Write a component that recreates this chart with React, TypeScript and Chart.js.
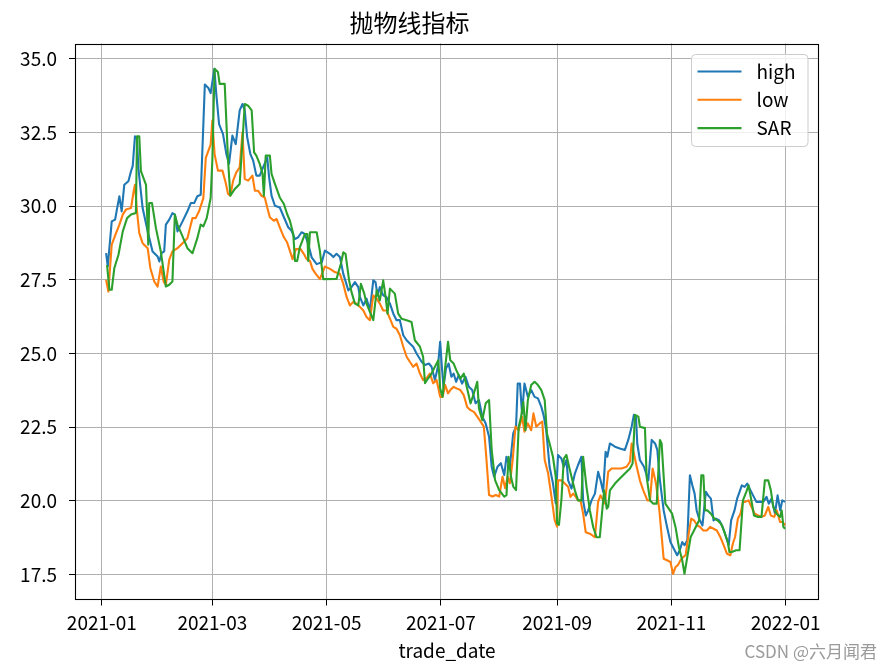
import React, { useEffect, useRef } from 'react';
import { Chart, registerables } from 'chart.js';

Chart.register(...registerables);

const TITLE = '抛物线指标';
const X_TITLE = 'trade_date';
const WATERMARK = 'CSDN @六月闻君';

// x values: days since 2021-01-01
const xTickDays = [0, 59, 120, 181, 243, 304, 365];
const xTickLabels = ['2021-01', '2021-03', '2021-05', '2021-07', '2021-09', '2021-11', '2022-01'];
const yTicks = [17.5, 20, 22.5, 25, 27.5, 30, 32.5, 35];

const seriesNames = ['high', 'low', 'SAR'];
const seriesColors = ['#1f77b4', '#ff7f0e', '#2ca02c'];

const highDays = [2.3, 3.2, 5.3, 7.1, 8.2, 9.4, 10.6, 12.0, 14.2, 15.6, 16.5, 17.7, 18.8, 19.5, 21.8, 24.5, 27.1, 29.8, 30.7, 31.9, 33.3, 34.2, 36.0, 37.7, 39.0, 40.4, 43.1, 45.7, 47.5, 49.3, 51.0, 52.8, 55.0, 56.9, 58.1, 60.1, 61.1, 62.6, 64.7, 66.5, 67.9, 69.7, 71.5, 73.6, 75.1, 76.3, 77.6, 79.3, 80.8, 82.5, 84.3, 86.1, 88.3, 89.3, 90.6, 92.4, 95.0, 97.2, 99.5, 101.3, 103.1, 104.8, 106.6, 108.4, 110.2, 112.0, 114.7, 117.4, 119.1, 121.8, 123.6, 125.3, 127.1, 128.9, 131.6, 133.3, 135.1, 136.9, 137.8, 139.6, 141.3, 143.1, 144.9, 146.1, 147.2, 148.4, 150.2, 152.0, 153.8, 155.6, 157.3, 159.1, 160.9, 162.7, 164.4, 166.2, 168.0, 170.7, 172.5, 174.6, 176.0, 177.8, 179.4, 180.6, 181.5, 182.4, 183.7, 185.1, 186.6, 187.8, 189.1, 190.5, 192.3, 194.1, 195.9, 197.7, 199.5, 201.3, 203.1, 204.9, 206.7, 208.1, 209.4, 211.2, 213.0, 214.8, 216.0, 217.8, 219.6, 221.1, 222.0, 223.2, 224.3, 225.6, 227.4, 229.2, 231.0, 232.8, 234.6, 235.8, 237.2, 239.0, 240.8, 242.3, 243.5, 245.3, 246.6, 248.0, 248.9, 250.7, 252.5, 254.2, 256.0, 256.9, 258.3, 259.6, 261.4, 263.2, 264.9, 266.2, 267.6, 268.9, 269.8, 271.2, 273.9, 276.5, 279.2, 281.0, 282.8, 284.0, 285.1, 285.8, 287.2, 289.4, 291.7, 293.5, 295.3, 296.5, 297.9, 299.9, 301.7, 303.5, 305.3, 307.1, 308.5, 309.8, 311.0, 312.5, 313.9, 315.2, 316.4, 317.5, 318.8, 320.6, 322.4, 323.6, 325.1, 326.5, 327.8, 329.6, 331.4, 333.2, 334.6, 335.9, 337.7, 339.1, 340.4, 341.6, 343.1, 344.5, 345.8, 347.6, 349.4, 351.2, 353.0, 354.8, 356.0, 357.5, 359.3, 360.7, 362.1, 363.2, 364.7];
const highVals = [28.40, 27.95, 29.48, 29.54, 29.93, 30.33, 29.82, 30.72, 30.84, 31.18, 31.35, 32.36, 32.31, 31.29, 29.93, 29.14, 28.46, 28.29, 28.12, 28.40, 28.46, 29.37, 29.54, 29.76, 29.71, 29.14, 29.48, 29.82, 30.10, 30.10, 30.33, 30.38, 34.12, 34.00, 33.83, 34.65, 33.80, 32.78, 32.44, 31.76, 31.43, 32.39, 32.10, 33.24, 33.46, 33.24, 32.33, 31.76, 31.54, 31.03, 31.03, 31.31, 31.65, 30.97, 30.35, 30.01, 29.95, 29.62, 29.28, 29.16, 28.88, 28.94, 29.11, 29.05, 28.71, 28.26, 28.03, 28.09, 28.49, 28.38, 28.27, 28.38, 28.27, 27.70, 27.14, 27.25, 27.42, 27.25, 26.91, 26.63, 26.86, 26.46, 27.48, 27.42, 26.97, 27.25, 26.97, 26.91, 26.69, 26.35, 26.13, 26.13, 25.62, 25.45, 25.34, 25.23, 25.00, 24.72, 24.61, 24.66, 24.55, 24.10, 24.55, 25.40, 24.55, 23.87, 24.49, 24.66, 24.21, 24.32, 24.04, 24.27, 23.98, 24.21, 23.87, 23.76, 23.31, 23.42, 22.86, 22.63, 22.18, 21.16, 20.82, 21.16, 21.28, 20.88, 21.50, 21.16, 22.29, 22.52, 23.98, 23.98, 22.97, 23.98, 23.53, 23.76, 23.53, 23.48, 23.19, 22.91, 22.40, 21.16, 20.60, 19.92, 21.56, 21.44, 21.16, 21.39, 20.70, 20.42, 20.93, 21.22, 21.50, 20.02, 19.51, 19.68, 20.02, 20.25, 20.99, 20.70, 20.31, 21.67, 21.50, 21.95, 21.84, 21.78, 21.73, 22.07, 22.52, 22.92, 22.86, 21.95, 21.39, 21.16, 20.70, 22.07, 21.95, 21.73, 20.70, 19.68, 19.12, 18.61, 18.38, 18.16, 18.33, 18.61, 18.50, 18.67, 20.87, 20.53, 20.25, 19.68, 19.40, 19.17, 20.31, 20.19, 20.08, 19.34, 19.40, 19.34, 19.12, 18.78, 18.50, 19.34, 19.68, 20.08, 20.31, 20.53, 20.48, 20.59, 20.42, 20.19, 19.97, 19.97, 19.97, 20.14, 19.91, 20.08, 19.57, 20.19, 19.68, 20.02, 19.97];

const lowDays = [2.3, 3.5, 5.3, 7.6, 9.4, 11.2, 12.9, 15.6, 17.0, 17.7, 18.8, 20.0, 21.8, 24.5, 25.9, 28.0, 29.8, 31.5, 33.0, 34.2, 36.0, 37.7, 40.4, 43.1, 45.7, 48.4, 50.1, 51.9, 54.2, 55.5, 58.1, 59.0, 60.2, 62.0, 64.4, 66.1, 67.4, 68.6, 70.1, 71.8, 73.6, 75.1, 76.3, 78.1, 80.4, 81.7, 83.4, 85.2, 87.0, 88.3, 89.7, 91.8, 93.3, 95.0, 97.2, 98.9, 100.4, 101.8, 103.6, 106.1, 107.9, 109.3, 111.1, 112.5, 114.3, 116.4, 119.1, 121.8, 124.4, 127.1, 128.9, 130.7, 132.4, 134.2, 136.0, 137.8, 139.6, 141.3, 143.1, 144.9, 146.7, 148.4, 150.2, 152.0, 153.8, 155.6, 157.3, 159.1, 160.9, 162.7, 164.4, 166.2, 168.0, 169.8, 171.5, 173.3, 175.1, 176.9, 178.7, 180.6, 181.9, 183.3, 184.8, 186.0, 187.8, 189.6, 191.4, 193.2, 195.0, 196.8, 198.6, 200.4, 202.2, 203.9, 205.2, 206.7, 208.5, 210.3, 212.1, 213.9, 215.3, 216.6, 217.8, 219.3, 220.8, 222.5, 224.3, 225.6, 227.4, 229.2, 230.4, 231.9, 233.7, 235.1, 236.4, 238.2, 240.0, 241.7, 243.0, 243.5, 245.3, 247.1, 248.9, 250.1, 251.6, 253.0, 254.2, 255.5, 256.9, 258.3, 260.5, 263.2, 264.9, 266.2, 268.5, 270.3, 272.1, 274.8, 277.4, 280.1, 281.9, 282.8, 284.0, 285.5, 287.2, 289.0, 291.2, 292.6, 294.0, 295.8, 297.6, 299.9, 301.7, 303.5, 304.9, 306.2, 307.4, 308.9, 310.3, 311.6, 313.4, 314.6, 316.1, 317.9, 319.3, 321.1, 322.9, 324.7, 326.5, 328.3, 330.1, 331.9, 333.7, 335.5, 336.8, 338.0, 339.5, 340.9, 342.2, 343.4, 345.2, 346.7, 348.5, 350.3, 352.1, 353.9, 355.7, 357.1, 358.9, 360.3, 362.0, 363.4, 364.7];
const lowVals = [27.50, 27.10, 28.69, 29.08, 29.37, 29.71, 29.88, 29.93, 30.50, 30.72, 29.82, 29.08, 28.74, 28.57, 27.90, 27.44, 27.27, 27.95, 27.44, 27.33, 28.18, 28.46, 28.57, 28.74, 28.91, 29.59, 29.59, 29.82, 30.27, 31.63, 32.08, 32.90, 31.76, 31.20, 31.20, 30.80, 30.41, 30.35, 30.86, 31.14, 31.31, 32.50, 30.92, 30.86, 31.03, 30.52, 30.52, 30.35, 30.29, 29.95, 29.62, 29.50, 29.56, 29.28, 28.94, 28.77, 28.48, 28.20, 28.54, 28.54, 28.37, 28.20, 28.14, 27.86, 27.69, 27.52, 27.95, 27.87, 27.76, 27.70, 27.36, 26.91, 26.63, 26.75, 26.69, 26.58, 26.46, 26.24, 26.13, 26.97, 26.86, 26.69, 26.46, 26.46, 26.18, 25.90, 25.84, 25.62, 25.23, 24.89, 24.72, 24.55, 24.66, 24.32, 24.10, 24.16, 24.32, 23.99, 24.10, 23.53, 23.53, 23.93, 23.65, 23.76, 23.87, 23.81, 23.76, 23.59, 23.19, 23.08, 23.02, 22.86, 22.69, 22.52, 21.50, 20.20, 20.15, 20.20, 20.15, 20.82, 20.43, 20.82, 20.60, 21.39, 22.52, 22.40, 22.86, 22.35, 22.63, 22.40, 22.97, 22.52, 22.63, 22.69, 21.39, 20.94, 20.15, 19.36, 19.13, 20.70, 20.70, 20.59, 20.48, 20.14, 20.25, 20.14, 20.02, 20.02, 19.57, 18.94, 18.89, 18.77, 19.97, 20.19, 19.91, 20.99, 21.10, 21.10, 21.10, 21.16, 21.33, 21.95, 21.61, 21.16, 20.70, 20.36, 20.02, 20.02, 21.10, 20.59, 19.68, 18.04, 17.99, 17.93, 17.53, 17.76, 17.82, 17.99, 18.10, 18.16, 18.95, 19.40, 19.34, 19.17, 19.12, 19.00, 19.00, 19.12, 19.06, 19.00, 18.78, 18.50, 18.21, 18.16, 18.55, 18.78, 19.40, 19.57, 19.97, 19.97, 20.02, 19.80, 19.57, 19.51, 19.46, 19.51, 19.80, 19.51, 19.46, 19.68, 19.29, 19.29, 19.17];

const sarDays = [2.8, 4.1, 5.3, 6.7, 8.9, 11.2, 13.5, 15.6, 18.2, 18.8, 20.0, 20.9, 23.6, 24.8, 25.3, 26.8, 28.9, 31.5, 34.2, 36.0, 37.7, 39.0, 40.4, 43.1, 45.7, 48.4, 51.0, 52.8, 54.2, 56.0, 58.1, 59.0, 60.2, 62.0, 62.9, 65.6, 67.4, 68.6, 71.0, 73.6, 75.1, 76.3, 78.1, 80.0, 81.3, 82.5, 84.3, 85.8, 86.5, 87.5, 89.7, 90.6, 92.4, 95.0, 97.2, 98.9, 100.4, 102.2, 103.1, 104.3, 105.7, 108.4, 109.7, 110.2, 111.1, 114.7, 116.4, 118.2, 125.3, 127.6, 128.9, 130.1, 132.0, 133.3, 135.1, 136.9, 138.3, 140.1, 141.3, 143.1, 144.9, 146.7, 148.4, 150.2, 151.5, 152.5, 153.8, 156.4, 158.2, 160.0, 162.7, 165.3, 167.1, 169.8, 171.5, 172.5, 174.2, 176.0, 177.8, 179.6, 180.6, 181.9, 183.3, 184.8, 186.0, 187.8, 189.6, 191.4, 193.2, 195.0, 196.8, 198.6, 200.4, 201.3, 203.1, 204.9, 206.7, 208.1, 209.9, 212.1, 214.8, 216.0, 217.1, 218.4, 219.6, 221.1, 222.5, 223.8, 225.0, 226.1, 227.4, 229.2, 231.0, 232.8, 234.6, 236.4, 237.6, 239.0, 240.8, 242.3, 243.0, 244.0, 245.3, 246.6, 248.0, 249.4, 250.7, 252.5, 254.2, 256.0, 256.9, 258.7, 260.5, 262.3, 264.1, 265.8, 268.1, 269.5, 270.3, 271.2, 273.9, 276.5, 279.2, 281.9, 283.3, 284.6, 286.4, 287.2, 289.9, 290.8, 292.6, 294.4, 296.2, 297.9, 298.8, 300.8, 304.4, 306.2, 308.0, 309.8, 311.0, 312.5, 314.3, 316.1, 317.9, 318.8, 320.0, 321.1, 322.0, 323.3, 325.1, 326.9, 328.7, 330.5, 332.3, 334.1, 335.0, 336.2, 338.6, 340.4, 342.2, 344.0, 345.2, 346.7, 348.1, 350.3, 352.1, 353.9, 355.7, 357.1, 358.4, 360.2, 362.0, 362.9, 363.8, 364.7];
const sarVals = [28.00, 27.16, 27.16, 27.90, 28.35, 29.14, 29.59, 29.71, 29.76, 32.36, 32.36, 31.18, 30.72, 28.69, 30.10, 30.10, 29.25, 28.46, 27.27, 27.33, 27.44, 29.71, 29.37, 28.97, 28.57, 28.40, 28.91, 29.37, 29.31, 29.59, 30.27, 31.54, 34.65, 34.54, 34.14, 34.14, 31.54, 30.35, 30.58, 30.75, 32.22, 33.46, 33.40, 33.24, 31.82, 31.71, 31.43, 31.09, 30.35, 31.71, 31.71, 31.09, 30.75, 30.29, 30.07, 29.73, 29.50, 29.05, 28.14, 28.14, 28.60, 29.05, 29.05, 28.14, 29.11, 29.11, 28.48, 27.52, 27.53, 28.04, 28.43, 28.38, 27.48, 27.08, 26.69, 26.63, 27.36, 27.03, 26.69, 26.41, 26.13, 27.14, 26.80, 27.48, 26.91, 26.35, 27.20, 27.03, 26.35, 26.18, 26.13, 26.07, 25.45, 25.23, 24.89, 23.99, 24.16, 24.32, 24.55, 24.77, 23.81, 23.53, 24.55, 25.40, 24.77, 24.66, 24.38, 24.15, 24.32, 23.81, 23.31, 23.65, 24.04, 23.14, 22.74, 23.31, 23.42, 21.73, 20.71, 20.37, 20.15, 20.20, 21.50, 20.82, 20.49, 20.37, 22.52, 22.86, 23.36, 22.40, 23.42, 23.93, 24.04, 23.93, 23.76, 23.42, 22.29, 21.95, 21.50, 20.82, 19.24, 19.19, 20.03, 21.44, 21.56, 21.16, 20.82, 20.36, 20.02, 20.02, 21.50, 20.48, 19.68, 19.11, 18.77, 18.77, 20.36, 19.74, 19.80, 20.36, 20.59, 20.76, 20.93, 21.10, 21.27, 22.92, 22.86, 22.52, 22.47, 20.82, 20.02, 19.91, 19.91, 22.07, 21.95, 19.91, 19.57, 19.12, 18.44, 17.99, 17.53, 18.10, 18.78, 19.00, 19.23, 19.34, 20.87, 20.87, 19.68, 19.68, 19.57, 19.40, 19.34, 19.23, 18.95, 18.61, 18.27, 18.27, 18.33, 18.33, 20.02, 20.31, 20.53, 20.02, 19.51, 19.46, 19.46, 20.70, 20.70, 20.36, 19.80, 19.57, 19.46, 19.68, 19.12, 19.06];

const X_MIN = -14.3;
const X_MAX = 382.8;
const Y_MIN = 16.66;
const Y_MAX = 35.51;

const FONT = '"Noto Sans CJK SC", "DejaVu Sans", sans-serif';

const toPoints = (days: number[], vals: number[]) => days.map((d, i) => ({ x: d, y: vals[i] }));

const framePlugin = {
  id: 'frame',
  afterDatasetsDraw(chart: any) {
    const { ctx, chartArea } = chart;
    const l = Math.round(chartArea.left) + 0.5;
    const t = Math.round(chartArea.top) + 0.5;
    const r = Math.round(chartArea.right) - 0.5;
    const b = Math.round(chartArea.bottom) - 0.5;
    ctx.save();
    ctx.strokeStyle = '#000';
    ctx.lineWidth = 1.1;
    ctx.strokeRect(l, t, r - l, b - t);
    ctx.restore();
  },
};

const legendPlugin = {
  id: 'innerLegend',
  afterDraw(chart: any) {
    const { ctx, chartArea } = chart;
    const boxR = chartArea.right - 11;
    const boxL = boxR - 116.5;
    const boxT = chartArea.top + 11;
    const boxH = 92;
    ctx.save();
    ctx.beginPath();
    const rad = 4;
    ctx.moveTo(boxL + rad, boxT);
    ctx.arcTo(boxR, boxT, boxR, boxT + boxH, rad);
    ctx.arcTo(boxR, boxT + boxH, boxL, boxT + boxH, rad);
    ctx.arcTo(boxL, boxT + boxH, boxL, boxT, rad);
    ctx.arcTo(boxL, boxT, boxR, boxT, rad);
    ctx.closePath();
    ctx.fillStyle = 'rgba(255,255,255,0.8)';
    ctx.fill();
    ctx.strokeStyle = '#cccccc';
    ctx.lineWidth = 1;
    ctx.stroke();
    ctx.font = '19px ' + FONT;
    ctx.textBaseline = 'middle';
    ctx.textAlign = 'left';
    seriesNames.forEach((name, i) => {
      const y = boxT + 17 + i * 28.3;
      ctx.beginPath();
      ctx.strokeStyle = seriesColors[i];
      ctx.lineWidth = 2.1;
      ctx.moveTo(boxL + 6, y);
      ctx.lineTo(boxL + 50, y);
      ctx.stroke();
      ctx.fillStyle = '#000';
      ctx.fillText(name, boxL + 65, y);
    });
    ctx.restore();
  },
};

const watermarkPlugin = {
  id: 'watermark',
  afterDraw(chart: any) {
    const { ctx } = chart;
    ctx.save();
    ctx.font = '17px ' + FONT;
    ctx.fillStyle = '#9a9a9a';
    ctx.textAlign = 'right';
    ctx.textBaseline = 'middle';
    ctx.fillText(WATERMARK, 877, 652);
    ctx.restore();
  },
};

export default function App() {
  const canvasRef = useRef<HTMLCanvasElement | null>(null);

  useEffect(() => {
    document.body.style.margin = '0';
    const canvas = canvasRef.current;
    if (!canvas) return;
    const seriesData = [
      toPoints(highDays, highVals),
      toPoints(lowDays, lowVals),
      toPoints(sarDays, sarVals),
    ];
    const chart = new Chart(canvas, {
      type: 'line',
      data: {
        datasets: seriesNames.map((name, i) => ({
          label: name,
          data: seriesData[i],
          borderColor: seriesColors[i],
          backgroundColor: seriesColors[i],
          borderWidth: 2.1,
          pointRadius: 0,
          pointHoverRadius: 0,
          tension: 0,
          fill: false,
          borderJoinStyle: 'round' as const,
          order: 2 - i,
        })),
      },
      options: {
        animation: false,
        responsive: false,
        devicePixelRatio: 1,
        events: [],
        layout: { padding: { left: 0, right: 73, top: 0, bottom: 0 } },
        plugins: {
          legend: { display: false },
          tooltip: { enabled: false },
          title: {
            display: true,
            text: TITLE,
            color: '#000',
            font: { family: FONT, size: 24, weight: 'normal' as const },
            padding: { top: 8, bottom: 6.7 },
          },
        },
        scales: {
          x: {
            type: 'linear',
            min: X_MIN,
            max: X_MAX,
            afterBuildTicks: (axis: any) => {
              axis.ticks = xTickDays.map((v) => ({ value: v }));
            },
            afterFit: (scale: any) => {
              scale.height = 70.5;
            },
            ticks: {
              color: '#000',
              font: { family: FONT, size: 19 },
              padding: 6,
              maxRotation: 0,
              autoSkip: false,
              callback: (value: any) => {
                const idx = xTickDays.indexOf(Number(value));
                return idx >= 0 ? xTickLabels[idx] : '';
              },
            },
            grid: { color: '#b0b0b0', lineWidth: 1, tickColor: '#000', tickLength: 6, drawTicks: true },
            border: { display: false },
            title: {
              display: true,
              text: X_TITLE,
              color: '#000',
              font: { family: FONT, size: 19 },
              padding: { top: 0, bottom: 7.6 },
            },
          },
          y: {
            type: 'linear',
            min: Y_MIN,
            max: Y_MAX,
            afterBuildTicks: (axis: any) => {
              axis.ticks = yTicks.map((v) => ({ value: v }));
            },
            afterFit: (scale: any) => {
              scale.width = 75;
            },
            ticks: {
              color: '#000',
              font: { family: FONT, size: 19 },
              padding: 12,
              autoSkip: false,
              callback: (value: any) => Number(value).toFixed(1),
            },
            grid: { color: '#b0b0b0', lineWidth: 1, tickColor: '#000', tickLength: 6, drawTicks: true },
            border: { display: false },
          },
        },
      } as any,
      plugins: [framePlugin, legendPlugin, watermarkPlugin],
    });
    return () => {
      chart.destroy();
    };
  }, []);

  return (
    <div style={{ width: 892, height: 670 }}>
      <canvas ref={canvasRef} width={892} height={670} style={{ width: 892, height: 670, display: 'block' }} />
    </div>
  );
}
